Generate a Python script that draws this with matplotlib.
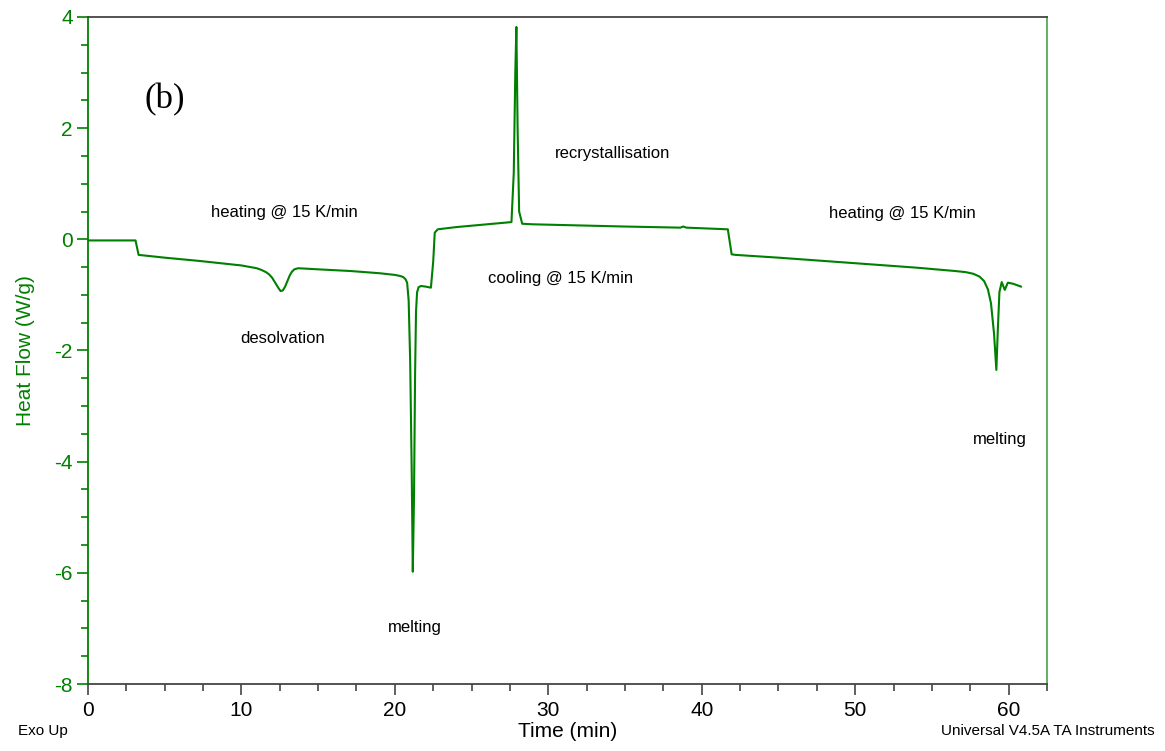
import matplotlib
matplotlib.use('Agg')
import matplotlib.pyplot as plt
from matplotlib.ticker import MultipleLocator, FormatStrFormatter

# DSC trace (time in min, heat flow in W/g)
time_min = [
    0.0, 3.1, 3.2, 3.3, 5.0, 7.3, 10.0, 10.6, 11.0, 11.3,
    11.6, 11.8, 12.0, 12.2, 12.4, 12.55, 12.7, 12.85, 13.0, 13.15,
    13.3, 13.45, 13.7, 15.0, 17.1, 19.0, 20.0, 20.35, 20.55, 20.7,
    20.8, 20.9, 21.0, 21.1, 21.17, 21.25, 21.32, 21.38, 21.45, 21.55,
    21.7, 22.0, 22.35, 22.5, 22.6, 22.8, 24.0, 26.0, 27.6, 27.75,
    27.85, 27.92, 28.0, 28.1, 28.3, 29.0, 32.0, 35.0, 38.6, 38.8,
    39.0, 41.7, 41.8, 41.95, 42.2, 45.0, 48.0, 51.0, 54.0, 56.5,
    57.2, 57.7, 58.1, 58.4, 58.65, 58.85, 59.05, 59.2, 59.3, 59.4,
    59.55, 59.75, 59.95, 60.3, 60.8]
heat_flow = [
    -0.02, -0.02, -0.15, -0.28, -0.33, -0.39, -0.47, -0.50, -0.52, -0.55,
    -0.59, -0.63, -0.69, -0.78, -0.87, -0.93, -0.92, -0.85, -0.75, -0.65,
    -0.58, -0.54, -0.52, -0.54, -0.57, -0.61, -0.64, -0.66, -0.68, -0.72,
    -0.78, -1.1, -2.2, -4.2, -5.98, -4.6, -2.4, -1.3, -0.95, -0.86,
    -0.84, -0.85, -0.87, -0.4, 0.12, 0.18, 0.22, 0.27, 0.31, 1.2,
    3.0, 3.82, 2.0, 0.5, 0.28, 0.27, 0.25, 0.23, 0.21, 0.23,
    0.21, 0.18, 0.0, -0.27, -0.28, -0.33, -0.39, -0.45, -0.51, -0.57,
    -0.59, -0.62, -0.67, -0.75, -0.9, -1.15, -1.7, -2.35, -1.6, -0.95,
    -0.77, -0.91, -0.78, -0.80, -0.85]

# annotations: (text, x, y)
notes = [
    ('heating @ 15 K/min', 12.8, 0.49),
    ('desolvation', 12.7, -1.78),
    ('melting', 21.3, -6.98),
    ('recrystallisation', 34.2, 1.55),
    ('cooling @ 15 K/min', 30.8, -0.70),
    ('heating @ 15 K/min', 53.1, 0.46),
    ('melting', 59.4, -3.61),
]

green = '#008000'
plt.rcParams['font.family'] = ['Liberation Sans', 'DejaVu Sans']

fig = plt.figure(figsize=(11.65, 7.51), dpi=100)
ax = fig.add_axes([0.0755, 0.0892, 0.8232, 0.8882])

ax.plot(time_min, heat_flow, color=green, linewidth=1.5)

ax.set_xlim(0, 62.5)
ax.set_ylim(-8, 4)

ax.xaxis.set_major_locator(MultipleLocator(10))
ax.xaxis.set_minor_locator(MultipleLocator(2.5))
ax.xaxis.set_major_formatter(FormatStrFormatter('%d'))
ax.yaxis.set_major_locator(MultipleLocator(2))
ax.yaxis.set_minor_locator(MultipleLocator(0.5))
ax.yaxis.set_major_formatter(FormatStrFormatter('%d'))

ax.tick_params(axis='x', which='major', direction='out', length=8, width=1.2,
               color='#444444', labelsize=15, pad=4)
ax.tick_params(axis='x', which='minor', direction='out', length=5, width=1.2,
               color='#444444')
ax.tick_params(axis='y', which='major', direction='out', length=8, width=1.2,
               color=green, labelcolor=green, labelsize=15, pad=3)
ax.tick_params(axis='y', which='minor', direction='out', length=5, width=1.2,
               color=green)

ax.spines['left'].set_color(green)
ax.spines['right'].set_color('#55aa55')
ax.spines['top'].set_color('#444444')
ax.spines['bottom'].set_color('#444444')
for s in ax.spines.values():
    s.set_linewidth(1.3)

ax.set_xlabel('Time (min)', fontsize=15, labelpad=2)
ax.set_ylabel('Heat Flow (W/g)', fontsize=15, color=green, labelpad=14)

for txt, x, y in notes:
    ax.text(x, y, txt, fontsize=12, ha='center', va='center')

ax.text(5.0, 2.51, '(b)', fontsize=25, family='Liberation Serif',
        ha='center', va='center')

fig.text(18 / 1165, 1 - 731 / 751, 'Exo Up', fontsize=11, ha='left', va='center')
fig.text(1155 / 1165, 1 - 731 / 751, 'Universal V4.5A TA Instruments', fontsize=11,
         ha='right', va='center')

fig.savefig('out.png', dpi=100)
